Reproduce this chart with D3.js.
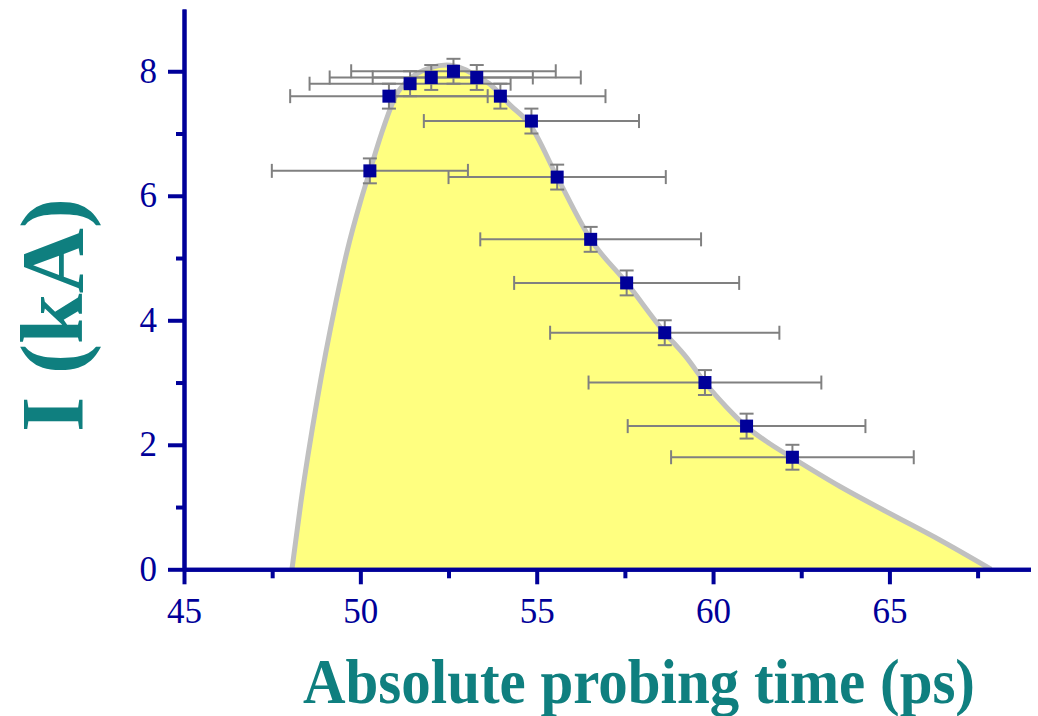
<!DOCTYPE html>
<html>
<head>
<meta charset="utf-8">
<script src="https://cdn.jsdelivr.net/npm/d3@7"></script>
<style>
  body { margin: 0; background: #fff; }
  svg { display: block; }
</style>
</head>
<body>
<div id="chart"></div>
<script>
// Measured points (absolute probing time in ps, current in kA)
const pointX = [50.27, 50.81, 51.41, 52.01, 52.64, 53.30, 53.97, 54.85, 55.58, 56.53, 57.55, 58.63, 59.77, 60.95, 62.25];
const pointY = [6.4, 7.6, 7.8, 7.9, 8.0, 7.9, 7.6, 7.2, 6.3, 5.3, 4.6, 3.8, 3.0, 2.3, 1.8];
const xErr   = [2.78, 2.8, 2.85, 2.88, 2.9, 2.95, 2.98, 3.05, 3.08, 3.13, 3.19, 3.25, 3.3, 3.37, 3.44];
const yErr   = [0.2, 0.2, 0.2, 0.2, 0.2, 0.2, 0.2, 0.2, 0.2, 0.2, 0.2, 0.2, 0.2, 0.2, 0.2];

// Envelope curve
const curveX = [48.06, 48.32, 48.77, 49.31, 49.62, 50.0, 50.27, 50.6, 51.0, 51.45, 52.0, 52.45, 52.95, 53.3, 53.7,
                54.24, 54.8, 55.58, 56.53, 57.55, 58.63, 59.25, 59.77, 60.39, 60.95, 61.6, 62.25, 63.6, 65.0, 66.43, 67.88];
const curveY = [0, 1.1, 2.7, 4.3, 5.1, 5.9, 6.4, 7.0, 7.6, 7.9, 8.06, 8.1, 8.03, 7.92, 7.78,
                7.46, 7.15, 6.3, 5.3, 4.6, 3.8, 3.4, 3.0, 2.6, 2.29, 2.02, 1.79, 1.33, 0.9, 0.47, 0];

const xMajor = [45, 50, 55, 60, 65];
const xMinor = [47.5, 52.5, 57.5, 62.5, 67.5];
const yMajor = [0, 2, 4, 6, 8];
const yMinor = [1, 3, 5, 7];

const width = 1038, height = 716;
const axisColor = "#000099";
const titleColor = "#0f7f7f";

const svg = d3.select("#chart").append("svg")
  .attr("width", width)
  .attr("height", height);

const x = d3.scaleLinear().domain([45, 69]).range([184, 1030.5]);
const y = d3.scaleLinear().domain([0, 9]).range([569.3, 9]);

// Filled envelope
const curvePts = curveX.map((v, i) => [v, curveY[i]]);

svg.append("path")
  .datum(curvePts)
  .attr("fill", "#ffff80")
  .attr("d", d3.area()
    .x(d => x(d[0]))
    .y0(y(0))
    .y1(d => y(d[1]))
    .curve(d3.curveMonotoneX));

svg.append("path")
  .datum(curvePts)
  .attr("fill", "none")
  .attr("stroke", "#c0c0c0")
  .attr("stroke-width", 5)
  .attr("d", d3.line()
    .x(d => x(d[0]))
    .y(d => y(d[1]))
    .curve(d3.curveMonotoneX));

// Error bars
const pts = pointX.map((v, i) => ({ x: v, y: pointY[i], ex: xErr[i], ey: yErr[i] }));
const errG = svg.append("g")
  .attr("stroke", "#808080")
  .attr("stroke-width", 2)
  .attr("fill", "none");

const cap = 7;
pts.forEach(p => {
  const cx = x(p.x), cy = y(p.y);
  const xl = x(p.x - p.ex), xr = x(p.x + p.ex);
  const yt = y(p.y + p.ey), yb = y(p.y - p.ey);
  errG.append("line").attr("x1", xl).attr("x2", xr).attr("y1", cy).attr("y2", cy);
  errG.append("line").attr("x1", xl).attr("x2", xl).attr("y1", cy - cap).attr("y2", cy + cap);
  errG.append("line").attr("x1", xr).attr("x2", xr).attr("y1", cy - cap).attr("y2", cy + cap);
  errG.append("line").attr("x1", cx).attr("x2", cx).attr("y1", yt).attr("y2", yb);
  errG.append("line").attr("x1", cx - cap).attr("x2", cx + cap).attr("y1", yt).attr("y2", yt);
  errG.append("line").attr("x1", cx - cap).attr("x2", cx + cap).attr("y1", yb).attr("y2", yb);
});

// Square markers
const size = 13;
svg.append("g").selectAll("rect")
  .data(pts)
  .join("rect")
  .attr("x", d => x(d.x) - size / 2)
  .attr("y", d => y(d.y) - size / 2)
  .attr("width", size)
  .attr("height", size)
  .attr("fill", "#000099");

// Axes
function styleAxis(g) {
  g.selectAll("path, line").attr("stroke", axisColor).attr("stroke-width", 4);
  g.selectAll("text")
    .attr("fill", axisColor)
    .style("font-family", "'Liberation Serif', 'Times New Roman', serif")
    .style("font-size", "35px");
}

const xAxisG = svg.append("g").attr("transform", `translate(0,${y(0)})`);
xAxisG.append("g")
  .call(d3.axisBottom(x).tickValues(xMinor).tickSize(9).tickSizeOuter(0).tickFormat(""))
  .call(styleAxis);
xAxisG.append("g")
  .call(d3.axisBottom(x).tickValues(xMajor).tickSize(15).tickSizeOuter(0).tickPadding(14).tickFormat(d3.format("d")))
  .call(styleAxis);

const yAxisG = svg.append("g").attr("transform", `translate(${x(45)},0)`);
yAxisG.append("g")
  .call(d3.axisLeft(y).tickValues(yMinor).tickSize(8).tickSizeOuter(0).tickFormat(""))
  .call(styleAxis);
yAxisG.append("g")
  .call(d3.axisLeft(y).tickValues(yMajor).tickSize(16).tickSizeOuter(0).tickPadding(11).tickFormat(d3.format("d")))
  .call(styleAxis);

// Axis titles
svg.append("text")
  .attr("transform", `translate(82,315) rotate(-90)`)
  .attr("text-anchor", "middle")
  .attr("fill", titleColor)
  .attr("textLength", 234)
  .attr("lengthAdjust", "spacingAndGlyphs")
  .style("font-family", "'Liberation Serif', 'Times New Roman', serif")
  .style("font-weight", "bold")
  .style("font-size", "88px")
  .text("I (kA)");

svg.append("text")
  .attr("x", 639)
  .attr("y", 703)
  .attr("text-anchor", "middle")
  .attr("fill", titleColor)
  .attr("textLength", 672)
  .attr("lengthAdjust", "spacingAndGlyphs")
  .style("font-family", "'Liberation Serif', 'Times New Roman', serif")
  .style("font-weight", "bold")
  .style("font-size", "63px")
  .text("Absolute probing time (ps)");
</script>
</body>
</html>
